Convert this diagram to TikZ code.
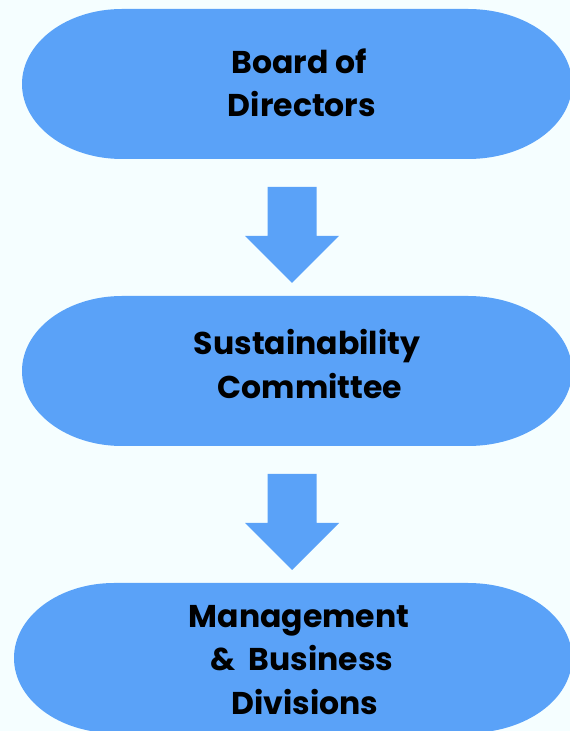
\documentclass[tikz,border=0pt]{standalone}
\usepackage{fontspec}
\setmainfont{Poppins}[UprightFont=* Bold]
\definecolor{bgc}{HTML}{F5FEFF}
\definecolor{blu}{HTML}{5AA2F8}
\begin{document}
\begin{tikzpicture}[x=1pt,y=1pt,
  lbl/.style={align=center,font=\fontsize{31.5}{43.5}\selectfont,text=black,inner sep=0pt},
  pill/.style={fill=blu},
  blockarrow/.style={fill=blu}]
\fill[bgc] (0,0) rectangle (570,731);
\useasboundingbox (0,0) rectangle (570,731);
% pills (y = 731 - pixel y)
\fill[pill] (122,722) -- (468,722) arc[start angle=90,end angle=-90,x radius=104,y radius=75] -- (122,572) arc[start angle=270,end angle=90,x radius=100,y radius=75] -- cycle;
\fill[pill] (122,435) -- (468,435) arc[start angle=90,end angle=-90,x radius=104,y radius=75] -- (122,285) arc[start angle=270,end angle=90,x radius=100,y radius=75] -- cycle;
\fill[pill] (114,148) -- (468,148) arc[start angle=90,end angle=-90,x radius=104,y radius=75] -- (114,-2) arc[start angle=270,end angle=90,x radius=100,y radius=75] -- cycle;
% labels
\node[lbl] (board) at (299,648) {Board of\\ \hspace*{6pt}Directors};
\node[lbl] (sust) at (307,367) {Sustainability\\ \hspace*{6pt}Committee};
\node[lbl] (mgmt) at (299,71) {Management\\ \hspace*{6pt}\&\ \ Business\\ \hspace*{12pt}Divisions};
% block arrows
\coordinate (a1) at (292,544);
\coordinate (a2) at (292,257);
\foreach \c in {a1,a2}{
  \fill[blockarrow] ([xshift=-24.5pt]\c) -- ([xshift=24.5pt]\c) -- ([xshift=24.5pt,yshift=-49pt]\c) -- ([xshift=47pt,yshift=-49pt]\c) -- ([yshift=-96pt]\c) -- ([xshift=-47pt,yshift=-49pt]\c) -- ([xshift=-24.5pt,yshift=-49pt]\c) -- cycle;
}
\end{tikzpicture}
\end{document}
